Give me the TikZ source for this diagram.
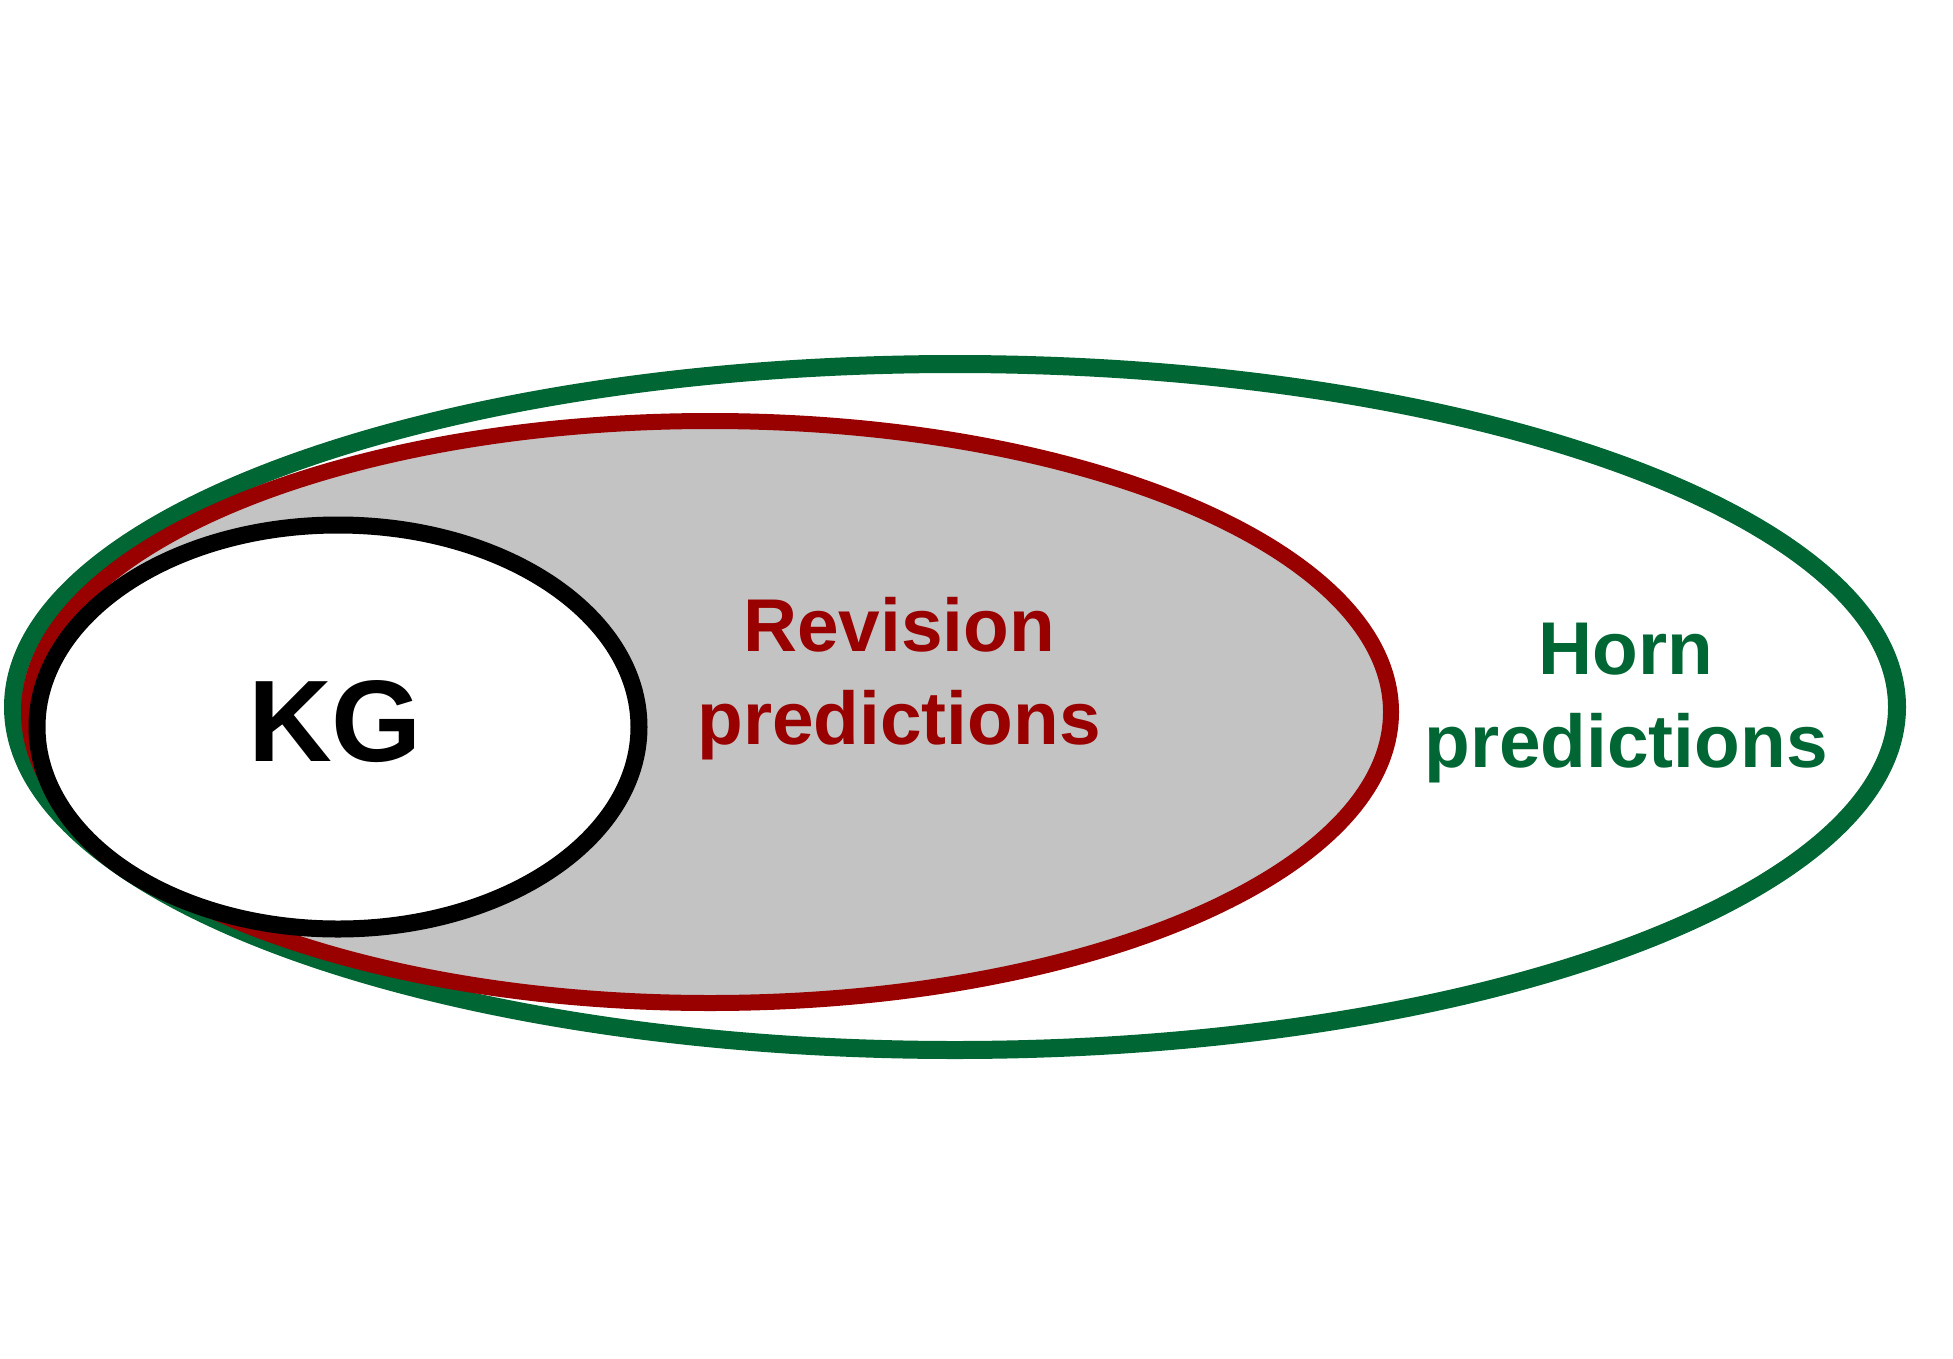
\documentclass[tikz,border=0pt]{standalone}
\usepackage{fontspec}
\setmainfont{Liberation Sans}
\usetikzlibrary{shapes.geometric}

\definecolor{horngreen}{RGB}{0,102,51}
\definecolor{revred}{RGB}{153,0,0}
\definecolor{revgray}{RGB}{195,195,195}

\begin{document}
\begin{tikzpicture}[x=0.5pt,y=-0.5pt,inner sep=0pt,outer sep=0pt]

  \tikzstyle{set}=[ellipse,draw,inner sep=0pt]
  \tikzstyle{label}=[font=\bfseries\fontsize{37.4}{46.5}\selectfont,align=center,anchor=base]

  \useasboundingbox (0,0) rectangle (1953,1359);

  \node[set,draw=horngreen,line width=9pt,fill=white,
        minimum width=942pt,minimum height=343pt] (HP) at (955,707) {};
  \node[set,draw=revred,line width=8pt,fill=revgray,
        minimum width=681pt,minimum height=291pt] (RP) at (710,712) {};
  \node[set,draw=black,line width=8.5pt,fill=white,
        minimum width=301pt,minimum height=202pt] (KG) at (338,727) {};

  \node[label,font=\bfseries\fontsize{58}{70}\selectfont] (KGt) at (335,761) {KG};
  \node[label,text=revred]    (RPt) at (899,744) {Revision\\predictions};
  \node[label,text=horngreen] (HPt) at (1626,767) {Horn\\predictions};
\end{tikzpicture}
\end{document}
